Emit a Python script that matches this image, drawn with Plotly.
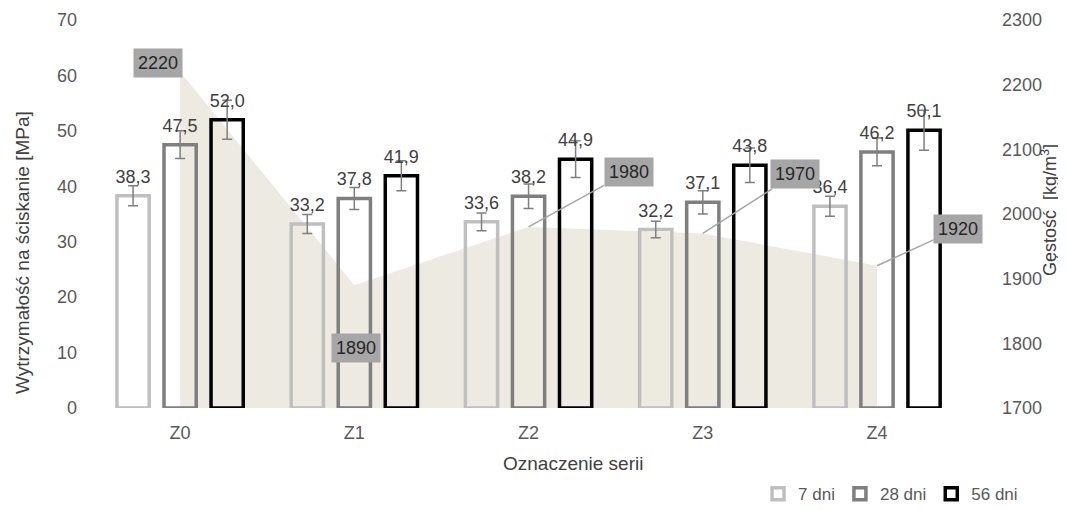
import plotly.graph_objects as go

categories = ["Z0", "Z1", "Z2", "Z3", "Z4"]
strength_7 = [38.3, 33.2, 33.6, 32.2, 36.4]
strength_28 = [47.5, 37.8, 38.2, 37.1, 46.2]
strength_56 = [52.0, 41.9, 44.9, 43.8, 50.1]
err_7 = [1.8, 1.7, 1.6, 1.5, 1.8]
err_28 = [2.5, 2.0, 2.2, 2.1, 2.5]
err_56 = [3.5, 2.7, 3.3, 3.1, 3.6]
density = [2220, 1890, 1980, 1970, 1920]
series_names = ["7 dni", "28 dni", "56 dni"]

FONT = "Arial, Liberation Sans, sans-serif"
fmt = lambda v: f"{v:.1f}".replace(".", ",")
BARGAP = 0.19

fig = go.Figure()

colors = ["#BFBFBF", "#7F7F7F", "#000000"]
groups = ["g7", "g28", "g56"]
all_vals = [strength_7, strength_28, strength_56]
all_errs = [err_7, err_28, err_56]

for name, vals, errs, col, g in zip(series_names, all_vals, all_errs, colors, groups):
    fig.add_trace(go.Bar(
        x=categories, y=vals, name=name, yaxis="y2", offsetgroup=g,
        marker=dict(color="rgba(0,0,0,0)", line=dict(color=col, width=3.5)),
        error_y=dict(type="data", array=errs, visible=True, color="#7F7F7F",
                     thickness=1.5, width=5)))

# value labels (grouped scatter text, aligned with the bars)
for name, vals, g in zip(series_names, all_vals, groups):
    fig.add_trace(go.Scatter(
        x=categories, y=vals, yaxis="y2", mode="markers+text", offsetgroup=g,
        marker=dict(size=12, opacity=0), text=[fmt(v) for v in vals],
        textposition="top center", textfont=dict(size=18, color="#404040", family=FONT),
        showlegend=False, hoverinfo="skip", cliponaxis=False))

# density area (primary y axis -> drawn underneath the bars); middle offset group = category centre
fig.add_trace(go.Scatter(
    x=categories, y=density, mode="lines", fill="tozeroy", offsetgroup="g28",
    line=dict(width=0, color="#EDEAE2"), fillcolor="#EDEAE2",
    showlegend=False, hoverinfo="skip", yaxis="y"))

# density labels
label_offsets = [(-22, -9, True), (2, 63, False), (100, -55, True), (92, -59, True), (81, -37, True)]
for cat, d, (ax, ay, arr) in zip(categories, density, label_offsets):
    if arr:
        fig.add_annotation(x=cat, y=d, xref="x", yref="y", text=str(d),
                           showarrow=True, ax=ax, ay=ay, arrowhead=0, arrowwidth=1.5,
                           arrowcolor="#A6A6A6", bgcolor="#A6A6A6", borderpad=4,
                           font=dict(size=18, color="#262626", family=FONT))
    else:
        fig.add_annotation(x=cat, y=d, xref="x", yref="y", text=str(d),
                           showarrow=False, xshift=ax, yshift=-ay, bgcolor="#A6A6A6",
                           borderpad=4, font=dict(size=18, color="#262626", family=FONT))

# axis titles
fig.add_annotation(x=-0.0798, y=0.402, xref="paper", yref="paper", xanchor="center", yanchor="middle",
                   text="Wytrzymałość na ściskanie [MPa]", showarrow=False, textangle=-90,
                   font=dict(size=19, color="#404040", family=FONT))
fig.add_annotation(x=1.074, y=0.51, xref="paper", yref="paper", xanchor="center", yanchor="middle",
                   text="Gęstość  [kg/m<sup>3</sup>]", showarrow=False, textangle=-90,
                   font=dict(size=18, color="#404040", family=FONT))
fig.add_annotation(x=0.539, y=-0.142, xref="paper", yref="paper", xanchor="center", yanchor="middle",
                   text="Oznaczenie serii", showarrow=False,
                   font=dict(size=19, color="#404040", family=FONT))

fig.update_layout(
    width=1058, height=502,
    margin=dict(l=85, r=83, t=12, b=102, autoexpand=False),
    paper_bgcolor="white", plot_bgcolor="white",
    font=dict(family=FONT, size=18, color="#595959"),
    barmode="group", bargap=BARGAP, bargroupgap=0.315,
    scattermode="group", scattergap=BARGAP,
    showlegend=True,
    legend=dict(orientation="h", x=1.045, xanchor="right", y=-0.222, yanchor="middle",
                font=dict(size=17, color="#595959"), traceorder="normal",
                itemwidth=30, tracegroupgap=0),
    xaxis=dict(showgrid=False, zeroline=False, showline=False, ticks="",
               ticklabelstandoff=12, tickfont=dict(size=18, color="#595959")),
    yaxis=dict(range=[1700, 2300], dtick=100, side="right", showgrid=False,
               zeroline=False, showline=False, ticklabelstandoff=18,
               tickfont=dict(size=18, color="#595959")),
    yaxis2=dict(range=[0, 70], dtick=10, side="left", overlaying="y", showgrid=False,
                zeroline=False, showline=False, ticklabelstandoff=15,
                tickfont=dict(size=18, color="#595959")),
)

fig.write_html("out.html")
